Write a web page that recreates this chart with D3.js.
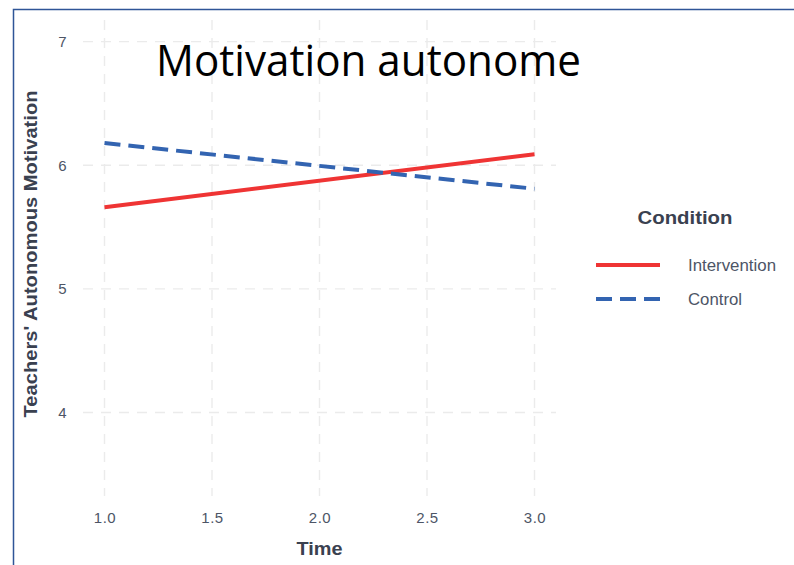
<!DOCTYPE html>
<html>
<head>
<meta charset="utf-8">
<script src="https://cdn.jsdelivr.net/npm/d3@7/dist/d3.min.js"></script>
<style>
  body { margin: 0; background: #fff; }
  svg { display: block; }
  .tick text { font-family: "Liberation Sans", Arial, sans-serif; font-size: 15px; fill: #4d5566; letter-spacing: 0.5px; }
</style>
</head>
<body>
<div id="chart"></div>
<script>
// data
var times = [1, 3];
var intervention = [5.66, 6.09];
var control = [6.18, 5.81];
var xTicks = [1.0, 1.5, 2.0, 2.5, 3.0];
var yTicks = [4, 5, 6, 7];
var conditions = ["Intervention", "Control"];
var colors = ["#ef3434", "#3364b1"];
var dashes = [null, "16,8"];
var legendWidths = [88, 54];

var W = 794, H = 565;
var margin = {top: 20, right: 238, bottom: 69, left: 83};
var width = W - margin.left - margin.right,
    height = H - margin.top - margin.bottom;

var svg = d3.select("#chart").append("svg")
    .attr("width", W)
    .attr("height", H);

// frame around the slide
svg.append("path")
    .attr("d", "M13.5,565 L13.5,9.5 L794,9.5")
    .attr("fill", "none")
    .attr("stroke", "#2f5597")
    .attr("stroke-width", 1.5);

var g = svg.append("g")
    .attr("transform", "translate(" + margin.left + "," + margin.top + ")");

var x = d3.scaleLinear().domain([0.9, 3.1]).range([0, width]);
var y = d3.scaleLinear().domain([3.325, 7.175]).range([height, 0]);

// grid
g.selectAll(".vgrid")
    .data(xTicks)
  .enter().append("line")
    .attr("class", "vgrid")
    .attr("x1", function(d) { return x(d); })
    .attr("x2", function(d) { return x(d); })
    .attr("y1", 0)
    .attr("y2", height)
    .attr("stroke", "#ebebeb")
    .attr("stroke-width", 1.4)
    .attr("stroke-dasharray", "10,8");

g.selectAll(".hgrid")
    .data(yTicks)
  .enter().append("line")
    .attr("class", "hgrid")
    .attr("x1", 0)
    .attr("x2", width)
    .attr("y1", function(d) { return y(d); })
    .attr("y2", function(d) { return y(d); })
    .attr("stroke", "#ebebeb")
    .attr("stroke-width", 1.4)
    .attr("stroke-dasharray", "10,8");

// axes (labels only)
var xAxis = g.append("g")
    .attr("transform", "translate(0," + height + ")")
    .call(d3.axisBottom(x).tickValues(xTicks).tickFormat(d3.format(".1f")).tickSize(0).tickPadding(16));
xAxis.select(".domain").remove();

var yAxis = g.append("g")
    .call(d3.axisLeft(y).tickValues(yTicks).tickFormat(d3.format("d")).tickSize(0).tickPadding(16));
yAxis.select(".domain").remove();

// lines
var series = [intervention, control];
var line = d3.line()
    .x(function(d, i) { return x(times[i]); })
    .y(function(d) { return y(d); });

series.forEach(function(vals, i) {
  g.append("path")
    .datum(vals)
    .attr("d", line)
    .attr("fill", "none")
    .attr("stroke", colors[i])
    .attr("stroke-width", 4)
    .attr("stroke-dasharray", dashes[i]);
});

// axis titles
svg.append("text")
    .attr("x", margin.left + x(2))
    .attr("y", 555)
    .attr("text-anchor", "middle")
    .attr("font-family", "Liberation Sans, Arial, sans-serif")
    .attr("font-weight", "bold")
    .attr("font-size", 18)
    .attr("fill", "#3a4150")
    .attr("textLength", 46)
    .attr("lengthAdjust", "spacingAndGlyphs")
    .text("Time");

svg.append("text")
    .attr("transform", "translate(37,254) rotate(-90)")
    .attr("text-anchor", "middle")
    .attr("font-family", "Liberation Sans, Arial, sans-serif")
    .attr("font-weight", "bold")
    .attr("font-size", 18)
    .attr("fill", "#3a4150")
    .attr("textLength", 327)
    .attr("lengthAdjust", "spacingAndGlyphs")
    .text("Teachers' Autonomous Motivation");

// legend
var legend = svg.append("g").attr("transform", "translate(596,0)");
legend.append("text")
    .attr("x", 89)
    .attr("y", 224)
    .attr("text-anchor", "middle")
    .attr("font-family", "Liberation Sans, Arial, sans-serif")
    .attr("font-weight", "bold")
    .attr("font-size", 18)
    .attr("fill", "#3a4150")
    .attr("textLength", 95)
    .attr("lengthAdjust", "spacingAndGlyphs")
    .text("Condition");

var items = legend.selectAll(".item")
    .data(conditions)
  .enter().append("g")
    .attr("class", "item")
    .attr("transform", function(d, i) { return "translate(0," + (265 + i * 34) + ")"; });

items.append("line")
    .attr("x1", 0)
    .attr("x2", 64)
    .attr("stroke", function(d, i) { return colors[i]; })
    .attr("stroke-width", 4)
    .attr("stroke-dasharray", function(d, i) { return dashes[i]; });

items.append("text")
    .attr("x", 92)
    .attr("y", 6)
    .attr("font-family", "Liberation Sans, Arial, sans-serif")
    .attr("font-size", 16)
    .attr("fill", "#4d5566")
    .attr("textLength", function(d, i) { return legendWidths[i]; })
    .attr("lengthAdjust", "spacingAndGlyphs")
    .text(function(d) { return d; });

// slide title
svg.append("text")
    .attr("x", 156)
    .attr("y", 76)
    .attr("font-family", "Open Sans, sans-serif")
    .attr("font-size", 43)
    .attr("fill", "#000")
    .attr("textLength", 425)
    .attr("lengthAdjust", "spacingAndGlyphs")
    .text("Motivation autonome");
</script>
</body>
</html>
